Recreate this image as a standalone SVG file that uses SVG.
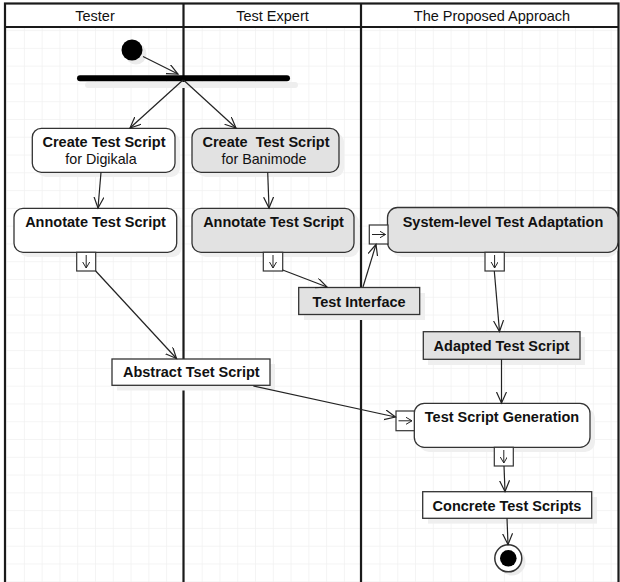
<svg xmlns="http://www.w3.org/2000/svg" width="620" height="582" viewBox="0 0 620 582">
<defs>
<pattern id="grid" patternUnits="userSpaceOnUse" x="6.1" y="12.3" width="17.78" height="17.78">
<path d="M0,0 H17.78 M0,0 V17.78" stroke="#f1f1f1" stroke-width="1.5" fill="none"/>
</pattern>
<marker id="arr" markerUnits="userSpaceOnUse" markerWidth="14" markerHeight="12" refX="11" refY="5" orient="auto">
<path d="M0,0 L11,5 L0,10" fill="none" stroke="#222" stroke-width="1.2"/>
</marker>
<marker id="parr" markerUnits="userSpaceOnUse" markerWidth="8" markerHeight="8" refX="6" refY="3.5" orient="auto">
<path d="M0,0 L6,3.5 L0,7" fill="none" stroke="#222" stroke-width="1"/>
</marker>
</defs>
<style>
text{font-family:"Liberation Sans",Arial,sans-serif;fill:#111;text-anchor:middle}
.hd{font-size:14.5px}
.b{font-size:14.5px;font-weight:bold}
.n{font-size:14.3px}
.act{stroke:#333;stroke-width:1.3}
.w{fill:#fff}
.g{fill:#e2e2e2}
.sh{fill:#efefef}
.lane{stroke:#1a1a1a;stroke-width:2.2;fill:none}
.c{stroke:#222;stroke-width:1.2;fill:none;marker-end:url(#arr)}
.pin{fill:#fff;stroke:#333;stroke-width:1.2}
.pa{stroke:#222;stroke-width:1;fill:none;marker-end:url(#parr)}
</style>
<rect x="0" y="0" width="620" height="582" fill="#fff"/>
<rect x="5" y="27" width="614" height="560" fill="url(#grid)"/>

<g id="lanes">
<rect x="5" y="3.5" width="613.5" height="600" class="lane"/>
<line x1="5" y1="27" x2="618.5" y2="27" class="lane" stroke-width="1.8"/>
<line x1="183.5" y1="3.5" x2="183.5" y2="582" class="lane"/>
<line x1="361" y1="3.5" x2="361" y2="582" class="lane"/>
<text class="hd" x="95" y="21">Tester</text>
<text class="hd" x="272.5" y="21">Test Expert</text>
<text class="hd" x="492" y="21">The Proposed Approach</text>
</g>

<g id="start">
<circle cx="136" cy="54" r="10.5" fill="#ebebeb"/>
<circle cx="132" cy="50" r="10.5" fill="#000"/>
</g>
<g id="fork">
<rect x="85" y="82" width="213" height="6" rx="3" fill="#eeeeee"/>
<rect x="77" y="75.3" width="213" height="6" rx="3" fill="#000"/>
</g>

<g id="create1">
<rect x="37" y="133" width="143" height="44" rx="9" class="sh"/>
<rect x="32.3" y="128.3" width="142.7" height="44" rx="9" class="act w"/>
<text class="b" x="104" y="147">Create Test Script</text>
<text class="n" x="101" y="164">for Digikala</text>
</g>
<g id="create2">
<rect x="197" y="133" width="147" height="44" rx="9" class="sh"/>
<rect x="192" y="128.3" width="147" height="44" rx="9" class="act g"/>
<text class="b" x="266" y="147" xml:space="preserve" style="white-space:pre">Create  Test Script</text>
<text class="n" x="264" y="164">for Banimode</text>
</g>
<g id="annotate1">
<rect x="19" y="213" width="162.7" height="44" rx="9" class="sh"/>
<rect x="14" y="208.3" width="162.7" height="44" rx="9" class="act w"/>
<text class="b" x="95.5" y="226.5">Annotate Test Script</text>
<rect x="76.7" y="252.3" width="19" height="18.7" class="pin"/>
<line x1="86.2" y1="255" x2="86.2" y2="268" class="pa"/>
</g>
<g id="annotate2">
<rect x="197" y="213" width="162" height="44" rx="9" class="sh"/>
<rect x="192" y="208.3" width="162" height="44" rx="9" class="act g"/>
<text class="b" x="273.5" y="226.5">Annotate Test Script</text>
<rect x="263.3" y="252.3" width="19.4" height="18.7" class="pin"/>
<line x1="273" y1="255" x2="273" y2="268" class="pa"/>
</g>
<g id="testinterface">
<rect x="304" y="293" width="121" height="27" class="sh"/>
<rect x="298.7" y="287.5" width="121" height="27" class="act g"/>
<text class="b" x="359" y="306.5">Test Interface</text>
</g>
<g id="adaptation">
<rect x="392" y="212" width="226" height="45" rx="10" class="sh"/>
<rect x="387.5" y="207.5" width="230.5" height="44.8" rx="10" class="act g"/>
<text class="b" x="503" y="226.5">System-level Test Adaptation</text>
<rect x="369.3" y="225" width="18.7" height="19" class="pin"/>
<line x1="372" y1="234.5" x2="385.5" y2="234.5" class="pa"/>
<rect x="485" y="252.3" width="19.3" height="18.7" class="pin"/>
<line x1="494.6" y1="255" x2="494.6" y2="268" class="pa"/>
</g>
<g id="adapted">
<rect x="428" y="337" width="157" height="28" class="sh"/>
<rect x="423.3" y="331.7" width="156.7" height="27.6" class="act g"/>
<text class="b" x="501.5" y="351">Adapted Test Script</text>
</g>
<g id="abstract">
<rect x="117" y="364" width="158" height="26.5" class="sh"/>
<rect x="112" y="359" width="158" height="26.3" class="act w"/>
<text class="b" x="191.3" y="377">Abstract Tset Script</text>
</g>
<g id="generation">
<rect x="419" y="408" width="176" height="44" rx="10" class="sh"/>
<rect x="414.3" y="403.3" width="175.7" height="44" rx="10" class="act w"/>
<text class="b" x="502" y="421.7">Test Script Generation</text>
<rect x="396" y="411" width="18.3" height="19.7" class="pin"/>
<line x1="398.5" y1="420.8" x2="412" y2="420.8" class="pa"/>
<rect x="494.3" y="447.3" width="19" height="18.7" class="pin"/>
<line x1="503.8" y1="450" x2="503.8" y2="463" class="pa"/>
</g>
<g id="concrete">
<rect x="428" y="497" width="169" height="26.6" class="sh"/>
<rect x="422.7" y="491.7" width="169" height="26.6" class="act w"/>
<text class="b" x="507" y="510.7">Concrete Test Scripts</text>
</g>
<g id="end">
<circle cx="512" cy="562" r="13.5" fill="#ebebeb"/>
<circle cx="508.3" cy="558.3" r="13.5" fill="#fff" stroke="#333" stroke-width="1.5"/>
<circle cx="508.3" cy="558.3" r="8.3" fill="#000"/>
</g>

<g id="connectors">
<line x1="143" y1="56.5" x2="178" y2="74" class="c"/>
<line x1="183" y1="80" x2="130" y2="128" class="c"/>
<line x1="183.5" y1="80" x2="236" y2="128" class="c"/>
<line x1="101" y1="172.3" x2="98" y2="208" class="c"/>
<line x1="267.7" y1="172.3" x2="269" y2="208" class="c"/>
<line x1="95.7" y1="271" x2="176.5" y2="358.5" class="c"/>
<line x1="282.7" y1="270" x2="327" y2="287" class="c"/>
<line x1="363" y1="287" x2="376" y2="244.5" class="c"/>
<line x1="494.3" y1="271" x2="499.5" y2="331.5" class="c"/>
<line x1="501.5" y1="359.3" x2="501.5" y2="403" class="c"/>
<line x1="253.3" y1="386" x2="395.5" y2="417" class="c"/>
<line x1="504" y1="466" x2="505" y2="491.5" class="c"/>
<line x1="507" y1="518.3" x2="508" y2="544.5" class="c"/>
</g>
</svg>
